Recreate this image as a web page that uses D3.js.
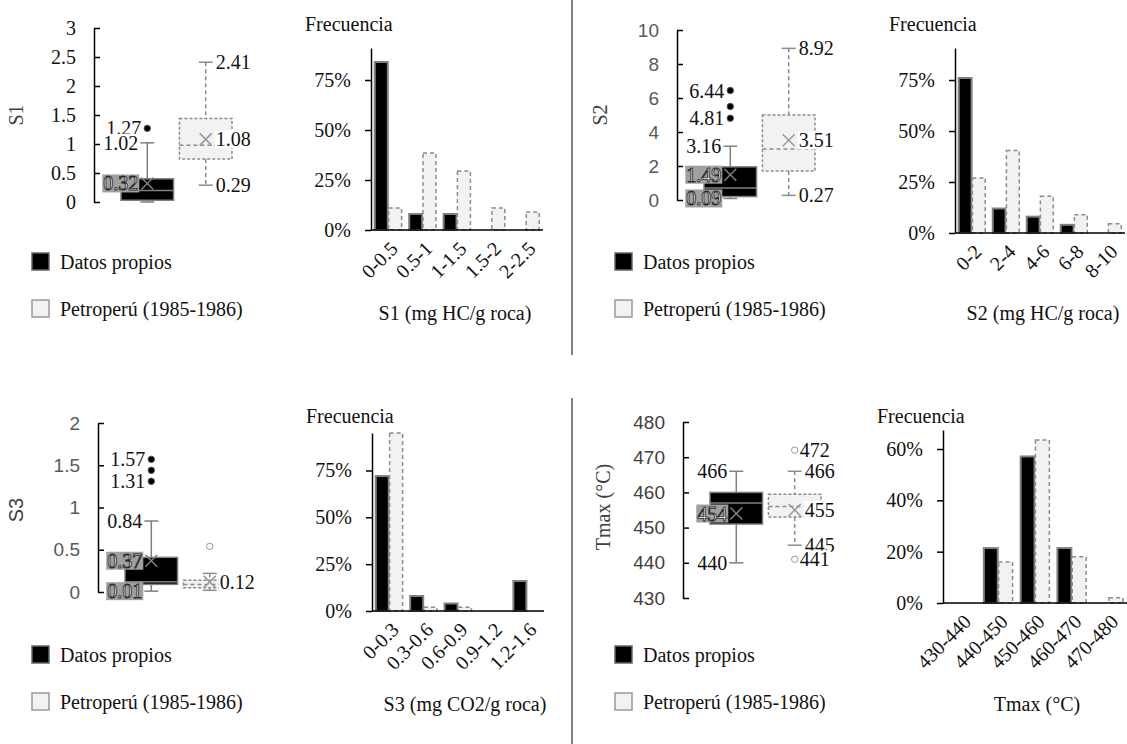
<!DOCTYPE html>
<html>
<head>
<meta charset="utf-8">
<script src="https://cdn.jsdelivr.net/npm/d3@7"></script>
<style>
  body { margin: 0; background: #fff; }
  svg { display: block; }
</style>
</head>
<body>
<svg id="chart" width="1127" height="744"></svg>
<script>
const seriesNames = ['Datos propios', 'Petroperú (1985-1986)'];

// box stats: [min, q1, median, q3, max, mean]
const s1Propios = [0.0, 0.03, 0.2, 0.4, 1.02, 0.32];
const s1PropiosOut = [1.27];
const s1PropiosLabels = [1.27, 1.02, 0.32];
const s1Petro = [0.29, 0.74, 0.98, 1.44, 2.41, 1.08];
const s1PetroOut = [];
const s1PetroLabels = [2.41, 1.08, 0.29];

const s2Propios = [0.09, 0.2, 0.7, 1.95, 3.16, 1.49];
const s2PropiosOut = [4.81, 5.5, 6.44];
const s2PropiosLabels = [6.44, 4.81, 3.16, 1.49, 0.09];
const s2Petro = [0.27, 1.7, 3.0, 5.0, 8.92, 3.51];
const s2PetroOut = [];
const s2PetroLabels = [8.92, 3.51, 0.27];

const s3Propios = [0.01, 0.09, 0.12, 0.41, 0.84, 0.37];
const s3PropiosOut = [1.31, 1.44, 1.57];
const s3PropiosLabels = [1.57, 1.31, 0.84, 0.37, 0.01];
const s3Petro = [0.02, 0.05, 0.09, 0.14, 0.22, 0.12];
const s3PetroOut = [0.54];
const s3PetroLabels = [0.12];

const tmaxPropios = [440, 451, 457, 460, 466, 454];
const tmaxPropiosOut = [];
const tmaxPropiosLabels = [466, 454, 440];
const tmaxPetro = [445, 453, 456, 459.5, 466, 455];
const tmaxPetroOut = [441, 472];
const tmaxPetroLabels = [472, 466, 455, 445, 441];

// histograms (share of samples per class)
const s1Bins = ['0-0.5', '0.5-1', '1-1.5', '1.5-2', '2-2.5'];
const s1HistPropios = [0.84, 0.08, 0.08, 0, 0];
const s1HistPetro = [0.11, 0.385, 0.295, 0.11, 0.09];

const s2Bins = ['0-2', '2-4', '4-6', '6-8', '8-10'];
const s2HistPropios = [0.76, 0.12, 0.08, 0.04, 0];
const s2HistPetro = [0.27, 0.405, 0.18, 0.09, 0.045];

const s3Bins = ['0-0.3', '0.3-0.6', '0.6-0.9', '0.9-1.2', '1.2-1.6'];
const s3HistPropios = [0.72, 0.08, 0.04, 0, 0.16];
const s3HistPetro = [0.95, 0.02, 0.02, 0, 0];

const tmaxBins = ['430-440', '440-450', '450-460', '460-470', '470-480'];
const tmaxHistPropios = [0, 0.214, 0.571, 0.214, 0];
const tmaxHistPetro = [0, 0.16, 0.635, 0.18, 0.02];

const s1Ticks = [0, 0.5, 1, 1.5, 2, 2.5, 3];
const s2Ticks = [0, 2, 4, 6, 8, 10];
const s3Ticks = [0, 0.5, 1, 1.5, 2];
const tmaxTicks = [430, 440, 450, 460, 470, 480];
const pctTicks = [0, 0.25, 0.5, 0.75];
const tmaxPctTicks = [0, 0.2, 0.4, 0.6];

const svg = d3.select('#chart');
const GREY = '#808080';
const LIGHT = '#f2f2f2';
const sansFont = '"Liberation Sans", Arial, sans-serif';
const serifFont = '"Liberation Serif", "Times New Roman", serif';

// every text gets its font through style(), so the axis defaults never win
function serif(sel, size) {
  return sel.style('font-family', serifFont).style('font-size', (size || 20) + 'px');
}

function drawBox(p) {
  const g = svg.append('g');
  const y = d3.scaleLinear().domain(p.domain).range([p.bottom, p.top]);
  const x = d3.scaleBand().domain(seriesNames)
    .range([p.axisX + 27, p.axisX + 138]).paddingInner(0.1);

  const axis = g.append('g')
    .attr('transform', 'translate(' + p.axisX + ',0)')
    .call(d3.axisLeft(y).tickValues(p.ticks).tickSize(-6).tickSizeOuter(0)
      .tickPadding(18).tickFormat(d3.format('~g')));
  axis.select('.domain').attr('stroke', '#000').attr('stroke-width', 1.5);
  axis.selectAll('.tick line').attr('stroke', '#000').attr('stroke-width', 1.5);
  axis.selectAll('.tick text')
    .style('font-family', p.tickFont).style('font-size', p.tickSize + 'px').attr('fill', p.tickColor);

  g.append('text')
    .attr('transform', 'translate(' + p.titleX + ',' + p.titleY + ') rotate(-90)')
    .attr('text-anchor', 'middle').attr('dy', '0.35em')
    .style('font-family', p.titleFont).style('font-size', '20px').attr('fill', '#404040')
    .text(p.title);

  const labelLayer = svg.append('g');

  p.boxes.forEach(function (b, i) {
    const own = i === 0;
    const [mn, q1, md, q3, mx, mean] = b.stats;
    const cx = x(seriesNames[i]) + x.bandwidth() / 2;
    const dash = own ? null : '4,3';
    const stroke = own ? GREY : '#8c8c8c';

    // whiskers and caps
    [[mx, q3], [q1, mn]].forEach(function (w) {
      g.append('line').attr('x1', cx).attr('x2', cx)
        .attr('y1', y(w[0])).attr('y2', y(w[1]))
        .attr('stroke', stroke).attr('stroke-width', 1.5).attr('stroke-dasharray', dash);
    });
    [mx, mn].forEach(function (v) {
      g.append('line').attr('x1', cx - 7).attr('x2', cx + 7)
        .attr('y1', y(v)).attr('y2', y(v))
        .attr('stroke', stroke).attr('stroke-width', 1.5);
    });

    g.append('rect')
      .attr('x', x(seriesNames[i])).attr('width', x.bandwidth())
      .attr('y', y(q3)).attr('height', y(q1) - y(q3))
      .attr('fill', own ? '#000' : LIGHT)
      .attr('stroke', stroke).attr('stroke-width', 1.5).attr('stroke-dasharray', own ? null : '3,2');

    g.append('line')
      .attr('x1', x(seriesNames[i])).attr('x2', x(seriesNames[i]) + x.bandwidth())
      .attr('y1', y(md)).attr('y2', y(md))
      .attr('stroke', stroke).attr('stroke-width', 1.5).attr('stroke-dasharray', dash);

    const my = y(mean);
    g.append('path')
      .attr('d', 'M' + (cx - 6) + ',' + (my - 6) + 'L' + (cx + 6) + ',' + (my + 6) +
        'M' + (cx - 6) + ',' + (my + 6) + 'L' + (cx + 6) + ',' + (my - 6))
      .attr('stroke', own ? GREY : '#999').attr('stroke-width', 1.5).attr('fill', 'none');

    g.selectAll(null).data(b.outliers).enter().append('circle')
      .attr('cx', cx).attr('cy', function (d) { return y(d); }).attr('r', 3.2)
      .attr('fill', own ? '#000' : '#fff')
      .attr('stroke', own ? '#555' : '#999').attr('stroke-width', 1);

    b.labels.forEach(function (v) {
      const isOut = b.outliers.indexOf(v) >= 0;
      const tx = own ? cx - (isOut ? 6 : 9) : cx + (isOut ? 5 : 10);
      const ty = y(v);
      const overBox = own && ty > y(q3) - 9 && ty < y(q1) + 9;
      const t = serif(labelLayer.append('text'), 20)
        .attr('x', tx).attr('y', ty).attr('dy', '0.35em')
        .attr('text-anchor', own ? 'end' : 'start')
        .attr('fill', '#111')
        .text(p.fmt(v));
      const bb = t.node().getBBox();
      labelLayer.insert('rect', function () { return t.node(); })
        .attr('x', bb.x - 1).attr('y', bb.y + 2)
        .attr('width', bb.width + 2).attr('height', bb.height - 4)
        .attr('fill', overBox ? '#a0a0a0' : '#fff');
      if (overBox) {
        t.attr('fill', '#fff').attr('stroke', '#2a2a2a').attr('stroke-width', 0.9);
      }
    });
  });
}

function drawHist(p) {
  const g = svg.append('g');
  const y = d3.scaleLinear().domain([0, p.yMax]).range([p.bottom, p.top]);
  const x = d3.scaleBand().domain(p.bins).range([p.axisX, p.right])
    .paddingInner(0.22).paddingOuter(0.11);
  const xs = d3.scaleBand().domain(seriesNames).range([0, x.bandwidth()]).paddingInner(0.06);

  [p.propios, p.petro].forEach(function (vals, i) {
    const own = i === 0;
    g.selectAll(null).data(p.bins.map(function (b, k) { return { bin: b, v: vals[k] }; })
        .filter(function (d) { return d.v > 0; }))
      .enter().append('rect')
      .attr('x', function (d) { return x(d.bin) + xs(seriesNames[i]); })
      .attr('width', xs.bandwidth())
      .attr('y', function (d) { return y(Math.min(d.v, p.yMax)); })
      .attr('height', function (d) { return p.bottom - y(Math.min(d.v, p.yMax)); })
      .attr('fill', own ? '#000' : LIGHT)
      .attr('stroke', own ? GREY : '#8c8c8c')
      .attr('stroke-width', own ? 2 : 1.5)
      .attr('stroke-dasharray', own ? null : '4,3');
  });

  const yAxis = g.append('g')
    .attr('transform', 'translate(' + p.axisX + ',0)')
    .call(d3.axisLeft(y).tickValues(p.ticks).tickSize(6).tickSizeOuter(0)
      .tickPadding(14).tickFormat(d3.format('.0%')));
  yAxis.select('.domain').attr('stroke', '#000').attr('stroke-width', 1.5);
  yAxis.selectAll('.tick line').attr('stroke', '#000').attr('stroke-width', 1.5);
  serif(yAxis.selectAll('.tick text'), 20).attr('fill', '#111');

  g.append('line')
    .attr('x1', p.axisX).attr('x2', p.right)
    .attr('y1', p.bottom).attr('y2', p.bottom)
    .attr('stroke', '#000').attr('stroke-width', 1.5);

  const xAxis = g.append('g')
    .attr('transform', 'translate(0,' + p.bottom + ')')
    .call(d3.axisBottom(x).tickSize(0));
  xAxis.select('.domain').remove();
  serif(xAxis.selectAll('.tick text'), 20).attr('fill', '#111')
    .attr('text-anchor', 'end').attr('x', 0).attr('y', 0).attr('dy', '0.35em')
    .attr('transform', 'translate(6,15) rotate(-45)');

  serif(g.append('text'), 20)
    .attr('x', p.axisX - 66).attr('y', p.freqY)
    .attr('fill', '#111')
    .text('Frecuencia');

  serif(g.append('text'), 20)
    .attr('x', p.titleX).attr('y', p.titleY)
    .attr('text-anchor', 'middle').attr('fill', '#111')
    .text(p.title);
}

function drawLegend(lx, ly) {
  const g = svg.append('g').attr('transform', 'translate(' + lx + ',' + ly + ')');
  seriesNames.forEach(function (name, i) {
    g.append('rect')
      .attr('x', 0).attr('y', i * 47).attr('width', 17).attr('height', 17)
      .attr('fill', i === 0 ? '#000' : LIGHT)
      .attr('stroke', i === 0 ? '#666' : '#999').attr('stroke-width', 1.5);
    serif(g.append('text'), 20)
      .attr('x', 28).attr('y', i * 47 + 8.5).attr('dy', '0.35em')
      .attr('fill', '#111')
      .text(name);
  });
}

drawBox({
  axisX: 94, bottom: 202, top: 28, domain: [0, 3], ticks: s1Ticks, fmt: d3.format('.2f'),
  tickFont: serifFont, tickSize: 20, tickColor: '#111',
  title: 'S1', titleX: 16, titleY: 115, titleFont: serifFont,
  boxes: [
    { stats: s1Propios, outliers: s1PropiosOut, labels: s1PropiosLabels },
    { stats: s1Petro, outliers: s1PetroOut, labels: s1PetroLabels }
  ]
});
drawBox({
  axisX: 677, bottom: 200, top: 30, domain: [0, 10], ticks: s2Ticks, fmt: d3.format('.2f'),
  tickFont: sansFont, tickSize: 19, tickColor: '#595959',
  title: 'S2', titleX: 600, titleY: 115, titleFont: serifFont,
  boxes: [
    { stats: s2Propios, outliers: s2PropiosOut, labels: s2PropiosLabels },
    { stats: s2Petro, outliers: s2PetroOut, labels: s2PetroLabels }
  ]
});
drawBox({
  axisX: 98, bottom: 592, top: 423, domain: [0, 2], ticks: s3Ticks, fmt: d3.format('.2f'),
  tickFont: sansFont, tickSize: 19, tickColor: '#595959',
  title: 'S3', titleX: 16, titleY: 510, titleFont: sansFont,
  boxes: [
    { stats: s3Propios, outliers: s3PropiosOut, labels: s3PropiosLabels },
    { stats: s3Petro, outliers: s3PetroOut, labels: s3PetroLabels }
  ]
});
drawBox({
  axisX: 683, bottom: 598, top: 422, domain: [430, 480], ticks: tmaxTicks, fmt: d3.format('d'),
  tickFont: sansFont, tickSize: 19, tickColor: '#404040',
  title: 'Tmax (°C)', titleX: 603, titleY: 507, titleFont: serifFont,
  boxes: [
    { stats: tmaxPropios, outliers: tmaxPropiosOut, labels: tmaxPropiosLabels },
    { stats: tmaxPetro, outliers: tmaxPetroOut, labels: tmaxPetroLabels }
  ]
});

drawHist({
  bins: s1Bins, propios: s1HistPropios, petro: s1HistPetro, ticks: pctTicks, yMax: 0.91,
  axisX: 371, right: 543, bottom: 230, top: 48, freqY: 31,
  title: 'S1 (mg HC/g roca)', titleX: 455, titleY: 320
});
drawHist({
  bins: s2Bins, propios: s2HistPropios, petro: s2HistPetro, ticks: pctTicks, yMax: 0.907,
  axisX: 955, right: 1125, bottom: 233, top: 48, freqY: 31,
  title: 'S2 (mg HC/g roca)', titleX: 1043, titleY: 320
});
drawHist({
  bins: s3Bins, propios: s3HistPropios, petro: s3HistPetro, ticks: pctTicks, yMax: 0.95,
  axisX: 372, right: 544, bottom: 611, top: 433, freqY: 423,
  title: 'S3 (mg CO2/g roca)', titleX: 465, titleY: 711
});
drawHist({
  bins: tmaxBins, propios: tmaxHistPropios, petro: tmaxHistPetro, ticks: tmaxPctTicks, yMax: 0.674,
  axisX: 943, right: 1127, bottom: 603, top: 430, freqY: 423,
  title: 'Tmax (°C)', titleX: 1037, titleY: 711
});

drawLegend(32, 253);
drawLegend(615, 253);
drawLegend(32, 646);
drawLegend(615, 646);

// panel separators
svg.append('line').attr('x1', 572).attr('x2', 572).attr('y1', 0).attr('y2', 355)
  .attr('stroke', '#000').attr('stroke-width', 1);
svg.append('line').attr('x1', 572).attr('x2', 572).attr('y1', 398).attr('y2', 744)
  .attr('stroke', '#000').attr('stroke-width', 1);
</script>
</body>
</html>
